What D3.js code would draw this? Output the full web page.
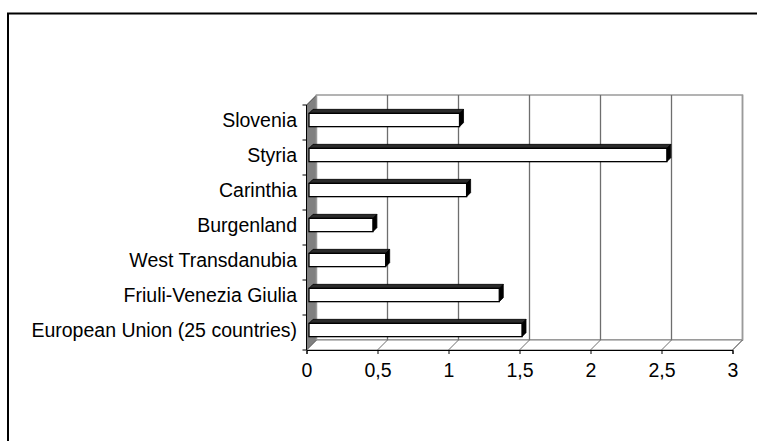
<!DOCTYPE html>
<html>
<head>
<meta charset="utf-8">
<script src="https://cdn.jsdelivr.net/npm/d3@7"></script>
<style>
  html, body { margin: 0; padding: 0; background: #fff; }
  svg { display: block; }
  text { font-family: "Liberation Sans", Arial, sans-serif; fill: #000; }
</style>
</head>
<body>
<svg id="chart" width="757" height="441"></svg>
<script>
// Regions, listed top to bottom as shown on the category axis
const categories = [
  "Slovenia",
  "Styria",
  "Carinthia",
  "Burgenland",
  "West Transdanubia",
  "Friuli-Venezia Giulia",
  "European Union (25 countries)"
];
const values = [1.06, 2.52, 1.11, 0.45, 0.54, 1.34, 1.50];
const tickValues = [0, 0.5, 1, 1.5, 2, 2.5, 3];
const tickLabels = ["0", "0,5", "1", "1,5", "2", "2,5", "3"];

(function () {
const svg = d3.select("#chart");
const fontSize = 19.5;

// Chart-area frame (extends past the right and bottom edges)
svg.append("rect")
  .attr("x", 8).attr("y", 13.5)
  .attr("width", 800).attr("height", 500)
  .attr("fill", "none").attr("stroke", "#000").attr("stroke-width", 2);

// Front plane geometry and 3-D depth offset
const x = d3.scaleLinear().domain([0, 3]).range([306.5, 732.5]);
const y = d3.scaleBand().domain(categories).range([105, 350])
  .paddingInner(0.62).paddingOuter(0.31);
const depth = 10;      // wall depth (px, drawn up and to the right)
const barFront = 2.5;  // bar front face offset inside the depth
const barDepth = 4;    // bar thickness in depth

const yTop = 105, yBottom = 350;
const x0 = x(0), x3 = x(3);

// Side wall (left)
svg.append("polygon")
  .attr("points", [[x0, yTop], [x0 + depth, yTop - depth], [x0 + depth, yBottom - depth], [x0, yBottom]].join(" "))
  .attr("fill", "#808080").attr("stroke", "#000").attr("stroke-width", 0.6);

// Back wall
svg.append("rect")
  .attr("x", x0 + depth).attr("y", yTop - depth)
  .attr("width", x3 - x0).attr("height", yBottom - yTop)
  .attr("fill", "#fff").attr("stroke", "#9a9a9a").attr("stroke-width", 1.5);

// Floor
svg.append("polygon")
  .attr("points", [[x0, yBottom], [x3, yBottom], [x3 + depth, yBottom - depth], [x0 + depth, yBottom - depth]].join(" "))
  .attr("fill", "#fff").attr("stroke", "#808080").attr("stroke-width", 1);

// Gridlines on back wall and floor
tickValues.forEach(t => {
  if (t > 0 && t < 3) {
    svg.append("line")
      .attr("x1", x(t) + depth).attr("x2", x(t) + depth)
      .attr("y1", yTop - depth).attr("y2", yBottom - depth)
      .attr("stroke", "#6e6e6e").attr("stroke-width", 1.3);
  }
  svg.append("line")
    .attr("x1", x(t)).attr("y1", yBottom)
    .attr("x2", x(t) + depth).attr("y2", yBottom - depth)
    .attr("stroke", "#6e6e6e").attr("stroke-width", 1);
});
svg.append("line")
  .attr("x1", x3 + depth).attr("x2", x3 + depth)
  .attr("y1", yTop - depth).attr("y2", yBottom - depth)
  .attr("stroke", "#9a9a9a").attr("stroke-width", 1.5);

// Bars: top face, end face, front face
const bars = svg.append("g");
categories.forEach((c, i) => {
  const xl = x(0) + barFront;
  const xr = x(values[i]) + barFront;
  const yt = y(c) - barFront;
  const yb = yt + y.bandwidth();
  bars.append("polygon")
    .attr("points", [[xl, yt], [xr, yt], [xr + barDepth, yt - barDepth], [xl + barDepth, yt - barDepth]].join(" "))
    .attr("fill", "#2b2b2b").attr("stroke", "#000").attr("stroke-width", 0.8);
  bars.append("polygon")
    .attr("points", [[xr, yt], [xr + barDepth, yt - barDepth], [xr + barDepth, yb - barDepth], [xr, yb]].join(" "))
    .attr("fill", "#000").attr("stroke", "#000").attr("stroke-width", 0.8);
  bars.append("rect")
    .attr("x", xl).attr("y", yt)
    .attr("width", xr - xl).attr("height", yb - yt)
    .attr("fill", "#fff").attr("stroke", "#000").attr("stroke-width", 1.3);
});

// Category axis
svg.append("line")
  .attr("x1", x0).attr("x2", x0).attr("y1", yTop).attr("y2", yBottom)
  .attr("stroke", "#000").attr("stroke-width", 1);
const step = y.step();
d3.range(categories.length + 1).forEach(k => {
  const yy = yTop + k * step;
  svg.append("line")
    .attr("x1", x0 - 4).attr("x2", x0).attr("y1", yy).attr("y2", yy)
    .attr("stroke", "#000").attr("stroke-width", 1);
});
svg.append("g").selectAll("text").data(categories).join("text")
  .attr("x", 297)
  .attr("y", c => y(c) + y.bandwidth() / 2 - barFront)
  .attr("dy", "0.35em")
  .attr("text-anchor", "end")
  .attr("font-size", fontSize)
  .text(c => c);

// Value axis
const xAxis = d3.axisBottom(x).tickValues(tickValues)
  .tickFormat((d, i) => tickLabels[i]).tickSize(4).tickPadding(9);
const gx = svg.append("g").attr("transform", `translate(0,${yBottom})`).call(xAxis);
gx.select(".domain").attr("stroke", "#000");
gx.selectAll(".tick line").attr("stroke", "#000");
gx.selectAll(".tick text")
  .attr("font-family", "Liberation Sans, Arial, sans-serif")
  .attr("font-size", fontSize).attr("fill", "#000");
})();
</script>
</body>
</html>
